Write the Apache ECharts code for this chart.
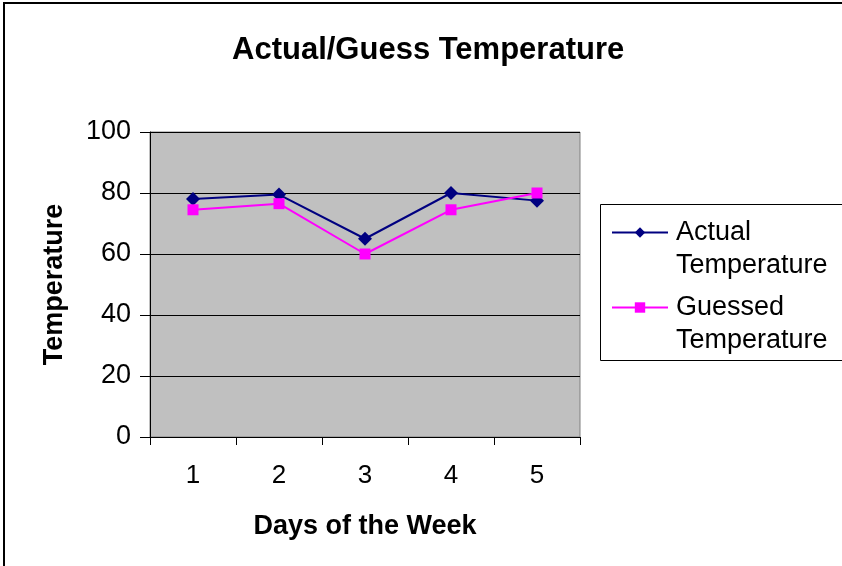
<!DOCTYPE html>
<html>
<head>
<meta charset="utf-8">
<script src="https://cdn.jsdelivr.net/npm/echarts@6/dist/echarts.min.js"></script>
<style>
html,body{margin:0;padding:0;background:#fff;}
#chart{width:842px;height:566px;}
</style>
</head>
<body>
<div id="chart"></div>
<script>
const categories = ['1', '2', '3', '4', '5'];
const actualTemps = [78, 79.5, 65, 80, 77.5];
const guessedTemps = [74.5, 76.5, 60, 74.5, 80];
const seriesNames = ['Actual Temperature', 'Guessed Temperature'];
const titleText = 'Actual/Guess Temperature';
const xAxisName = 'Days of the Week';
const yAxisName = 'Temperature';

const FONT = '"Liberation Sans", Arial, Helvetica, sans-serif';
const chart = echarts.init(document.getElementById('chart'), null, {renderer: 'canvas'});

chart.setOption({
  backgroundColor: '#ffffff',
  animation: false,
  textStyle: {fontFamily: FONT, color: '#000'},
  title: {
    text: titleText,
    left: 232,
    top: 35,
    padding: 0,
    textStyle: {fontFamily: FONT, fontSize: 31, fontWeight: 'bold', color: '#000'}
  },
  graphic: [
    {type: 'rect', shape: {x: 4, y: 3, width: 900, height: 700}, style: {fill: 'none', stroke: '#000', lineWidth: 2}, silent: true, z: -1},
    {type: 'rect', shape: {x: 600.5, y: 204.5, width: 300, height: 156}, style: {fill: '#fff', stroke: '#000', lineWidth: 1}, silent: true, z: -1}
  ],
  legend: {
    orient: 'vertical',
    left: 611,
    top: 183,
    padding: 0,
    itemGap: -24,
    itemWidth: 56,
    itemHeight: 13,
    formatter: function (name) { return '\n' + name.replace(' ', '\n'); },
    textStyle: {fontFamily: FONT, fontSize: 27, lineHeight: 33, color: '#000', padding: [0, 0, 0, 3]},
    data: seriesNames
  },
  grid: {
    left: 150, top: 132, width: 430, height: 305,
    show: true, backgroundColor: '#c0c0c0', borderColor: '#808080', borderWidth: 1,
    containLabel: false
  },
  xAxis: {
    type: 'category',
    data: categories,
    boundaryGap: true,
    name: xAxisName,
    nameLocation: 'middle',
    nameGap: 76,
    nameTextStyle: {fontFamily: FONT, fontSize: 27, fontWeight: 'bold', color: '#000'},
    axisLine: {show: true, lineStyle: {color: '#000', width: 1}},
    axisTick: {show: true, length: 8, lineStyle: {color: '#000'}},
    axisLabel: {fontFamily: FONT, fontSize: 26, color: '#000', margin: 26},
    splitLine: {show: false}
  },
  yAxis: {
    type: 'value',
    min: 0, max: 100, interval: 20,
    name: yAxisName,
    nameLocation: 'middle',
    nameGap: 82,
    nameRotate: 90,
    nameTextStyle: {fontFamily: FONT, fontSize: 27, fontWeight: 'bold', color: '#000'},
    axisLine: {show: true, lineStyle: {color: '#000', width: 1}},
    axisTick: {show: true, length: 10, lineStyle: {color: '#000'}},
    axisLabel: {fontFamily: FONT, fontSize: 27, color: '#000', margin: 19},
    splitLine: {show: true, lineStyle: {color: '#000', width: 1}}
  },
  series: [
    {
      name: seriesNames[0],
      type: 'line',
      data: actualTemps,
      symbol: 'diamond',
      symbolSize: 14,
      color: '#000080',
      lineStyle: {color: '#000080', width: 2},
      itemStyle: {color: '#000080'},
      z: 2
    },
    {
      name: seriesNames[1],
      type: 'line',
      data: guessedTemps,
      symbol: 'rect',
      symbolSize: 11,
      color: '#ff00ff',
      lineStyle: {color: '#ff00ff', width: 2},
      itemStyle: {color: '#ff00ff'},
      z: 3
    }
  ]
});
</script>
</body>
</html>
